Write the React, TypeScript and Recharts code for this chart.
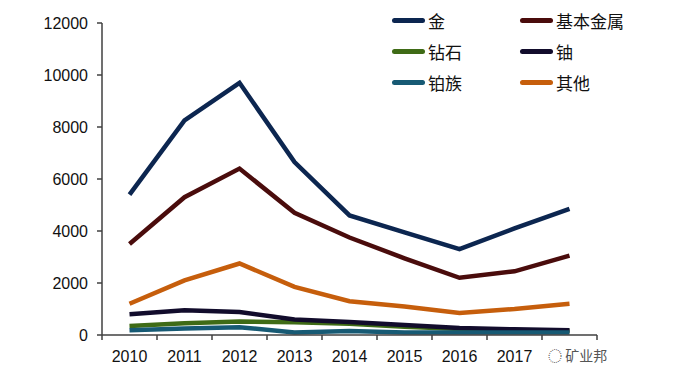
import { LineChart, Line, XAxis, YAxis } from 'recharts'

const YEARS = ['2010', '2011', '2012', '2013', '2014', '2015', '2016', '2017', '2018']
const GOLD = [5400, 8250, 9700, 6650, 4600, 3950, 3300, 4100, 4850]
const BASE_METALS = [3500, 5300, 6400, 4700, 3750, 2950, 2200, 2450, 3050]
const DIAMONDS = [350, 450, 520, 490, 430, 320, 230, 180, 150]
const URANIUM = [800, 950, 880, 600, 500, 380, 270, 220, 180]
const PGM = [180, 250, 300, 100, 150, 100, 100, 100, 100]
const OTHERS = [1200, 2100, 2750, 1850, 1300, 1100, 850, 1000, 1200]
const Y_TICKS = [0, 2000, 4000, 6000, 8000, 10000, 12000]

const SERIES = [
  { key: 'gold', name: '金', values: GOLD, color: '#0c2650' },
  { key: 'base', name: '基本金属', values: BASE_METALS, color: '#4a0c0c' },
  { key: 'diamonds', name: '钻石', values: DIAMONDS, color: '#3f6b16' },
  { key: 'uranium', name: '铀', values: URANIUM, color: '#120c2c' },
  { key: 'pgm', name: '铂族', values: PGM, color: '#175a74' },
  { key: 'others', name: '其他', values: OTHERS, color: '#c65e0c' },
]

const data = YEARS.map((year, i) => {
  const row: { [k: string]: number | string } = { i, year }
  SERIES.forEach((s) => {
    row[s.key] = s.values[i]
  })
  return row
})

const boundaries = YEARS.map((_, i) => i - 0.5).concat([YEARS.length - 0.5])
const centers = YEARS.map((_, i) => i)

const FONT = '"Liberation Sans", Arial, sans-serif'

function LegendBlock() {
  return (
    <div
      style={{
        position: 'absolute',
        left: 392,
        top: 9,
        display: 'grid',
        gridTemplateColumns: '128px 140px',
        rowGap: 9,
        fontFamily: '"Noto Sans CJK SC", sans-serif',
        fontSize: 17,
        color: '#111',
      }}
    >
      {SERIES.map((s) => (
        <div key={s.key} style={{ display: 'flex', alignItems: 'center', height: 22 }}>
          <span
            style={{
              display: 'inline-block',
              width: 33,
              height: 5,
              borderRadius: 3,
              backgroundColor: s.color,
              marginRight: 3,
            }}
          />
          <span>{s.name}</span>
        </div>
      ))}
    </div>
  )
}

export default function App() {
  return (
    <div style={{ position: 'absolute', left: 0, top: 0, width: 700, height: 376, background: '#fff' }}>
      <LineChart width={700} height={376} data={data} margin={{ top: 23, right: 103, bottom: 0, left: 0 }}>
        <XAxis
          xAxisId="bounds"
          type="number"
          dataKey="i"
          domain={[-0.5, YEARS.length - 0.5]}
          ticks={boundaries}
          tickFormatter={() => ''}
          height={1}
          stroke="#404040"
          strokeWidth={1.5}
          tickSize={5}
        />
        <XAxis
          xAxisId="labels"
          type="number"
          dataKey="i"
          domain={[-0.5, YEARS.length - 0.5]}
          ticks={centers}
          tickFormatter={(v) => (v === YEARS.length - 1 ? '' : YEARS[v])}
          axisLine={false}
          tickLine={false}
          height={40}
          tickMargin={9}
          tick={{ fontSize: 16, fill: '#111', fontFamily: FONT }}
        />
        <YAxis
          domain={[0, 12000]}
          ticks={Y_TICKS}
          width={102}
          stroke="#404040"
          strokeWidth={1.5}
          tickSize={5}
          tickMargin={9}
          tick={{ fontSize: 16, fill: '#111', fontFamily: FONT }}
        />
        {SERIES.map((s) => (
          <Line
            key={s.key}
            xAxisId="labels"
            dataKey={s.key}
            name={s.name}
            type="linear"
            stroke={s.color}
            strokeWidth={4.5}
            dot={false}
            isAnimationActive={false}
          />
        ))}
      </LineChart>
      <LegendBlock />
      <div
        style={{
          position: 'absolute',
          left: 548,
          top: 345,
          fontFamily: '"Noto Sans CJK SC", sans-serif',
          fontSize: 14,
          color: '#555',
        }}
      >
        ◌ 矿业邦
      </div>
    </div>
  )
}
